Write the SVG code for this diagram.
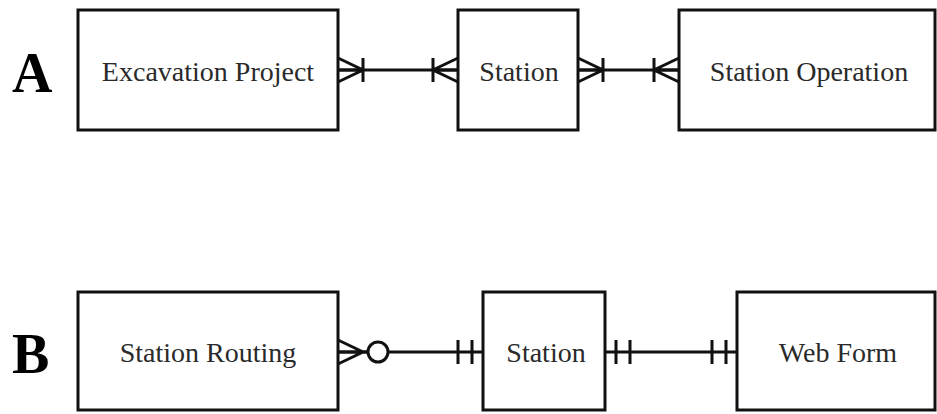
<svg xmlns="http://www.w3.org/2000/svg" width="937" height="414" viewBox="0 0 937 414">
<style>
.box{fill:#fff;stroke:#111;stroke-width:3}
.lbl{font-family:"Liberation Serif","Times New Roman",serif;font-size:28px;fill:#2a2a2a;text-anchor:middle}
.big{font-family:"Liberation Serif","Times New Roman",serif;font-size:56px;font-weight:bold;fill:#000}
.ln{fill:none;stroke:#111;stroke-width:3}
.mk{fill:none;stroke:#111;stroke-width:3}
</style>
<defs>
<marker id="oneMany" markerUnits="userSpaceOnUse" markerWidth="60" markerHeight="40" refX="0" refY="0" orient="auto-start-reverse" overflow="visible">
<path class="mk" d="M0,-12 L-25,0 L0,12 M0,0 L-25,0 M-25,-12 L-25,12"/>
</marker>
<marker id="zeroMany" markerUnits="userSpaceOnUse" markerWidth="60" markerHeight="40" refX="0" refY="0" orient="auto-start-reverse" overflow="visible">
<path class="mk" d="M0,-12 L-25,0 L0,12 M0,0 L-29,0"/>
<circle cx="-40" cy="0" r="10" fill="#fff" stroke="#111" stroke-width="3"/>
</marker>
<marker id="oneOne" markerUnits="userSpaceOnUse" markerWidth="60" markerHeight="40" refX="0" refY="0" orient="auto-start-reverse" overflow="visible">
<path class="mk" d="M-11,-12 L-11,12 M-25,-12 L-25,12"/>
</marker>
</defs>
<text class="big" x="12" y="92">A</text>
<text class="big" x="12" y="373">B</text>
<g id="connectors">
<path class="ln" d="M338,70 L458,70" marker-start="url(#oneMany)" marker-end="url(#oneMany)"/>
<path class="ln" d="M578,70 L679,70" marker-start="url(#oneMany)" marker-end="url(#oneMany)"/>
<path class="ln" d="M338,352 L483,352" marker-start="url(#zeroMany)" marker-end="url(#oneOne)"/>
<path class="ln" d="M605,352 L737,352" marker-start="url(#oneOne)" marker-end="url(#oneOne)"/>
</g>
<g id="excavation-project">
<rect class="box" x="78" y="10" width="260" height="120"/>
<text class="lbl" x="208" y="81">Excavation Project</text>
</g>
<g id="station-a">
<rect class="box" x="458" y="10" width="120" height="120"/>
<text class="lbl" x="519" y="81">Station</text>
</g>
<g id="station-operation">
<rect class="box" x="679" y="10" width="256" height="120"/>
<text class="lbl" x="809" y="81">Station Operation</text>
</g>
<g id="station-routing">
<rect class="box" x="78" y="292" width="260" height="118"/>
<text class="lbl" x="208" y="362">Station Routing</text>
</g>
<g id="station-b">
<rect class="box" x="483" y="292" width="122" height="118"/>
<text class="lbl" x="546" y="362">Station</text>
</g>
<g id="web-form">
<rect class="box" x="737" y="292" width="198" height="118"/>
<text class="lbl" x="838" y="362">Web Form</text>
</g>
</svg>
